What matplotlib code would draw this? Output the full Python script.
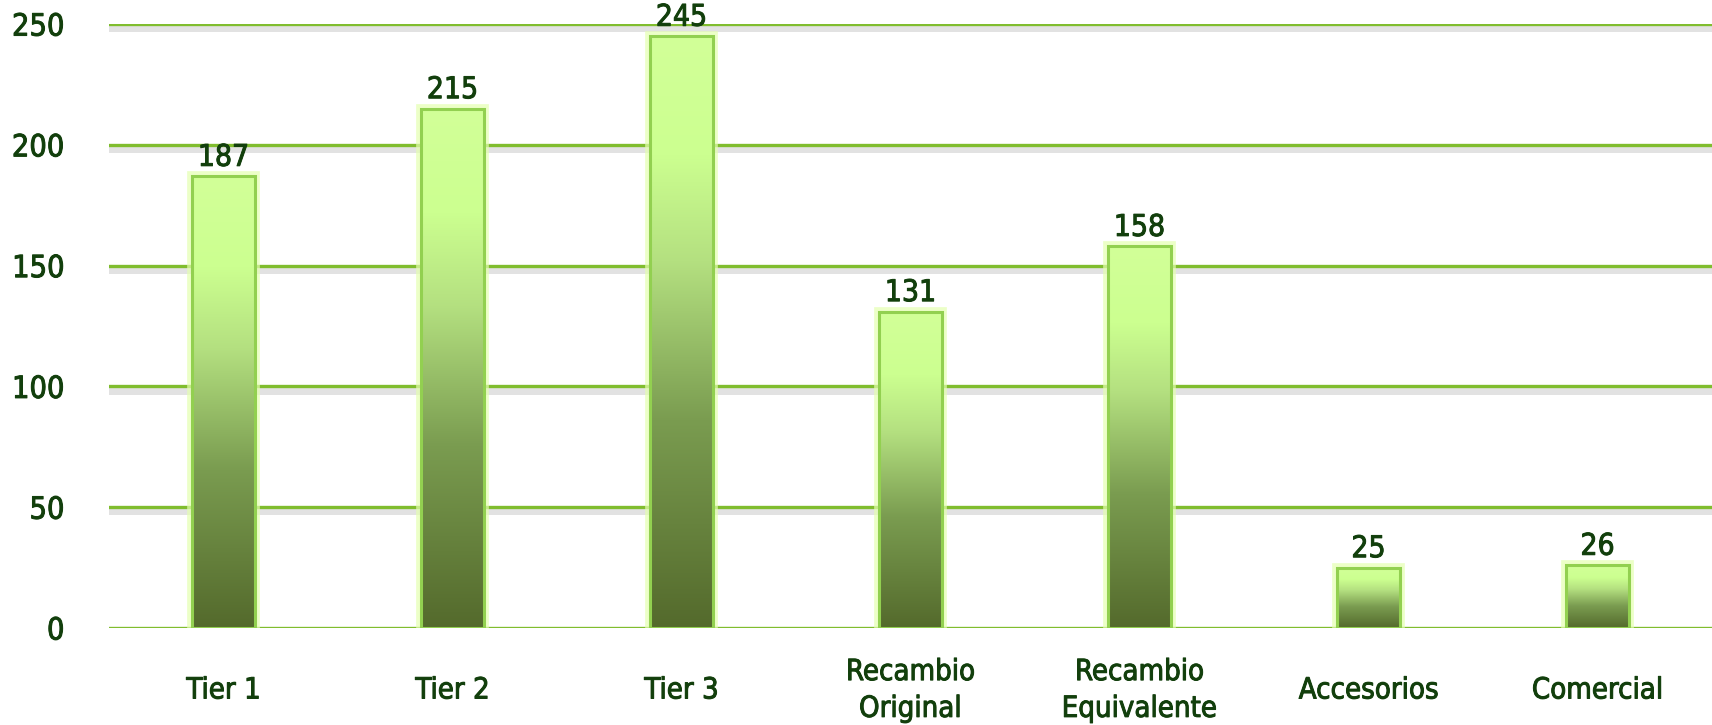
import numpy as np
import matplotlib.pyplot as plt
import matplotlib.patheffects as pe
from matplotlib.colors import LinearSegmentedColormap
from matplotlib.patches import Rectangle

# datos
categorias = ['Tier 1', 'Tier 2', 'Tier 3', 'Recambio\nOriginal', 'Recambio\nEquivalente',
              'Accesorios', 'Comercial']
valores = [187, 215, 245, 131, 158, 25, 26]
yticks = [0, 50, 100, 150, 200, 250]

texto = '#123f0c'
plt.rcParams['font.family'] = ['DejaVu Sans']
plt.rcParams['font.stretch'] = 'condensed'
grueso = [pe.withStroke(linewidth=0.7, foreground=texto)]

fig = plt.figure(figsize=(17.12, 7.25), dpi=100)
ax = fig.add_axes([0.0637, 0.1338, 0.9363, 0.833])

# degradado: claro arriba, oscuro abajo
cmap = LinearSegmentedColormap.from_list(
    'verde', [(0.0, '#546a2c'), (0.35, '#7a9c50'), (0.62, '#b4e080'), (0.8, '#ccff90'), (1.0, '#d2ff98')])
grad = np.linspace(0, 1, 256).reshape(-1, 1)

ancho = 0.275
x = np.arange(len(categorias))

# lineas de cuadricula con sombra
for t in yticks:
    ax.axhline(t, color='#80bd2e', lw=2.4, zorder=1,
               path_effects=[pe.SimpleLineShadow(offset=(0, -3), shadow_color='#707070', alpha=0.2, linewidth=5),
                             pe.Normal()])

bars = ax.bar(x, valores, width=ancho, color='none', zorder=3)
for b, v in zip(bars, valores):
    x0 = b.get_x()
    # brillo exterior
    glow = Rectangle((x0, 0), ancho, v, fill=False, ec='#e4ffb0', lw=7, alpha=0.7, zorder=2)
    ax.add_patch(glow)
    im = ax.imshow(grad, cmap=cmap, origin='lower', aspect='auto',
                   extent=[x0, x0 + ancho, 0, v], zorder=3)
    im.set_clip_path(b)
    ax.add_patch(Rectangle((x0, 0), ancho, v, fill=False, ec='#92d050', lw=2.2, zorder=4))
    ax.annotate(str(v), (b.get_x() + ancho / 2, v), xytext=(0, 7.5), textcoords='offset points',
                ha='center', va='baseline', fontsize=21.5, color=texto, zorder=5,
                annotation_clip=False, path_effects=grueso)

ax.set_xlim(-0.5, len(categorias) - 0.5)
ax.set_ylim(0, 250)
ax.set_yticks(yticks)
ax.set_xticks(x)
ax.set_xticklabels(categorias, fontsize=21, color=texto, linespacing=1.4, va='center')
ax.tick_params(axis='y', labelsize=22, labelcolor=texto, length=0, pad=32)
ax.tick_params(axis='x', length=0, pad=45)
for lbl in ax.get_xticklabels() + ax.get_yticklabels():
    lbl.set_path_effects(grueso)
for s in ax.spines.values():
    s.set_visible(False)

fig.savefig('out.png', dpi=100)
